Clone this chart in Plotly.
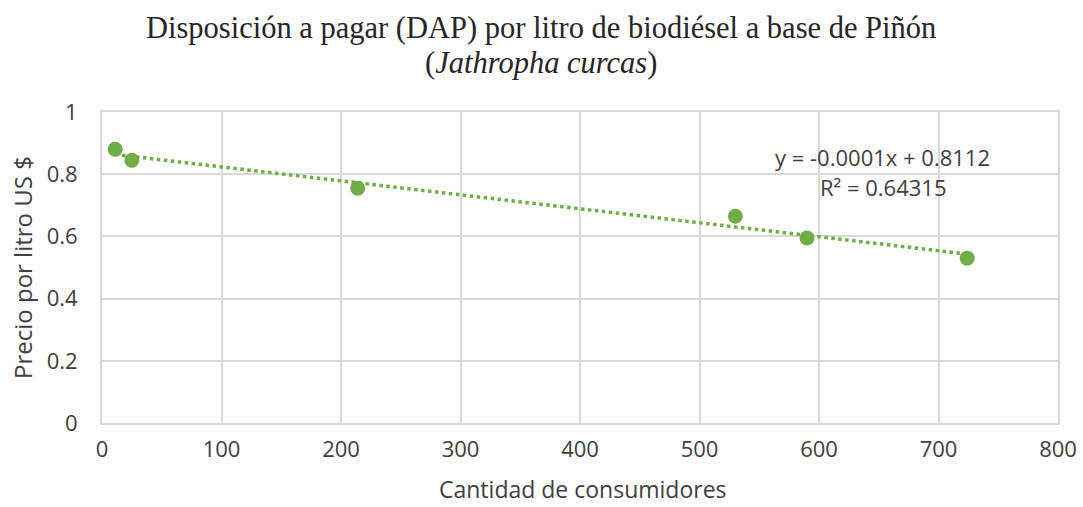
import numpy as np
import plotly.graph_objects as go

consumidores = [11, 25, 214, 530, 590, 724]
precio = [0.88, 0.845, 0.755, 0.665, 0.595, 0.53]
ecuacion = "y = -0.0001x + 0.8112"
r2_texto = "R² = 0.64315"
titulo_1 = "Disposición a pagar (DAP) por litro de biodiésel a base de Piñón"
titulo_2 = "(<i>Jathropha curcas</i>)"
titulo_x = "Cantidad de consumidores"
titulo_y = "Precio por litro US $"

GREEN = "#70ad47"
GRID = "#d9d9d9"
TXT = "#404040"

m, b = np.polyfit(consumidores, precio, 1)
xt = np.array([min(consumidores), max(consumidores)])
yt = m * xt + b

L, R, T, B = 102, 25, 112, 84
W, H = 1083, 507
ph = H - T - B
pw = W - L - R

def py(pix):  # pixel y -> paper y
    return (H - B - pix) / ph

def px(pix):
    return (pix - L) / pw

fig = go.Figure()
fig.add_trace(go.Scatter(x=xt, y=yt, mode="lines",
                         line=dict(color=GREEN, width=3.5, dash="dot"),
                         showlegend=False, hoverinfo="skip"))
fig.add_trace(go.Scatter(x=consumidores, y=precio, mode="markers",
                         marker=dict(color=GREEN, size=15),
                         showlegend=False))

ann_font = dict(family="Open Sans", size=22, color=TXT)
fig.update_layout(
    width=W, height=H,
    paper_bgcolor="white", plot_bgcolor="white",
    margin=dict(l=L, r=R, t=T, b=B, autoexpand=False),
    font=dict(family="Open Sans", color=TXT),
    xaxis=dict(range=[0, 800], dtick=100, showgrid=True, gridcolor=GRID, gridwidth=2,
               zeroline=False, showline=True, linecolor=GRID, linewidth=2, mirror=True,
               ticks="", tickfont=dict(size=22, color=TXT), automargin=False,
               ticklabelstandoff=6),
    yaxis=dict(range=[0, 1], dtick=0.2, showgrid=True, gridcolor=GRID, gridwidth=2,
               zeroline=False, showline=True, linecolor=GRID, linewidth=2, mirror=True,
               ticks="", tickfont=dict(size=22, color=TXT), automargin=False,
               ticklabelstandoff=18),
    annotations=[
        dict(text=titulo_1, x=541, y=28, xref="paper", yref="paper", showarrow=False,
             xanchor="center", yanchor="middle",
             font=dict(family="Liberation Serif", size=30.5, color="#262626")),
        dict(text=titulo_2, x=541, y=63, xref="paper", yref="paper", showarrow=False,
             xanchor="center", yanchor="middle",
             font=dict(family="Liberation Serif", size=30.5, color="#262626")),
        dict(text=titulo_x, x=583, y=489, xref="paper", yref="paper", showarrow=False,
             xanchor="center", yanchor="middle", font=dict(family="Open Sans", size=23, color=TXT)),
        dict(text=titulo_y, x=22, y=268, xref="paper", yref="paper", showarrow=False, textangle=-90,
             xanchor="center", yanchor="middle", font=dict(family="Open Sans", size=24, color=TXT)),
        dict(text=ecuacion, x=882, y=157, xref="paper", yref="paper", showarrow=False,
             xanchor="center", yanchor="middle", font=ann_font),
        dict(text=r2_texto, x=883, y=187, xref="paper", yref="paper", showarrow=False,
             xanchor="center", yanchor="middle", font=ann_font),
    ],
)
for a in fig.layout.annotations:
    a.x = px(a.x)
    a.y = py(a.y)
fig.write_html("out.html", config={"displayModeBar": False},
               post_script="document.body.style.margin='0';document.body.style.overflow='hidden';")
